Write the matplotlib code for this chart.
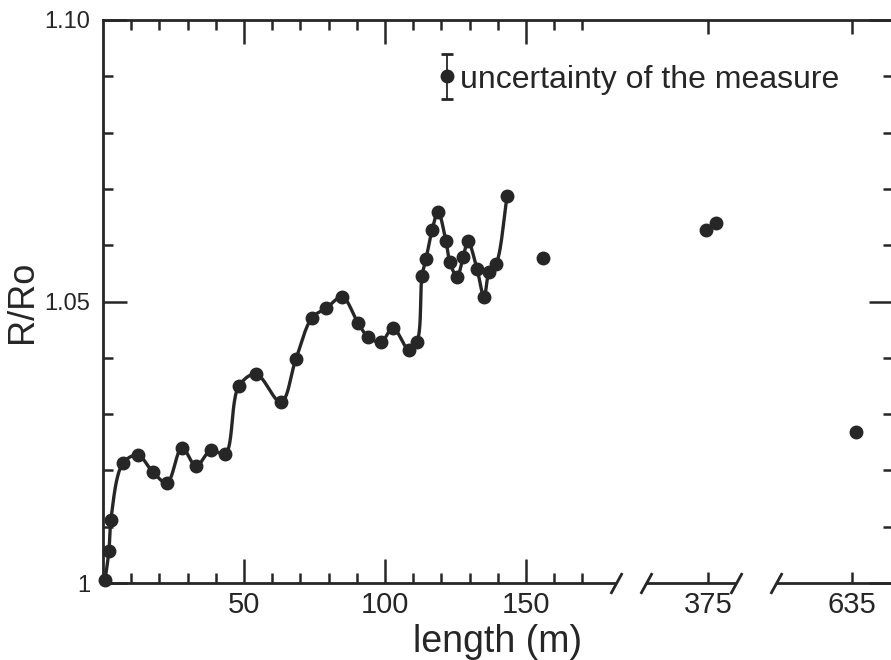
import numpy as np
import matplotlib
matplotlib.use("Agg")
import matplotlib.pyplot as plt
from matplotlib.path import Path

# Continuous run of measurements: length (m) and relative resistance R/Ro
length = [0.7, 2.1, 2.8, 7.1, 12.4, 17.7, 22.7, 28.0, 33.0, 38.3, 43.3,
          48.2, 54.3, 63.1, 68.4, 74.1, 79.1, 84.8, 90.4, 94.0, 98.6,
          102.8, 108.5, 111.3, 113.1, 114.5, 116.7, 118.8, 121.6, 123.0,
          125.5, 127.7, 129.4, 132.6, 135.1, 136.9, 139.4, 143.3]
ratio = [1.0005, 1.0057, 1.0112, 1.0213, 1.0227, 1.0197, 1.0178, 1.0240,
         1.0208, 1.0236, 1.0229, 1.0350, 1.0371, 1.0321, 1.0398, 1.0471,
         1.0488, 1.0508, 1.0462, 1.0437, 1.0428, 1.0453, 1.0414, 1.0428,
         1.0545, 1.0575, 1.0627, 1.0659, 1.0607, 1.0570, 1.0544, 1.0579,
         1.0607, 1.0558, 1.0508, 1.0552, 1.0567, 1.0687]

# Isolated measurements at longer lengths
far_length = [156.0, 374.3, 377.8, 636.4]
far_ratio = [1.0577, 1.0627, 1.0639, 1.0268]

# Measurement uncertainty shown in the key
uncertainty = 0.004

x_ticks = [50, 100, 150, 375, 635]
x_ticklabels = ["50", "100", "150", "375", "635"]
x_minor = [10, 20, 30, 40, 60, 70, 80, 90, 110, 120, 130, 140, 160, 170]
y_ticks = [1.00, 1.05, 1.10]
y_ticklabels = ["1", "1.05", "1.10"]
y_minor = [1.01, 1.02, 1.03, 1.04, 1.06, 1.07, 1.08, 1.09]

INK = "#262626"
TICK_FONT = ["Liberation Sans Narrow", "Liberation Sans", "DejaVu Sans"]
TEXT_FONT = ["Liberation Sans", "DejaVu Sans"]

# Broken length axis: piecewise-linear map from length to axis position
X_KNOTS = np.array([0.0, 182.0, 353.0, 385.0, 608.0, 700.0])
U_KNOTS = np.array([0.0, 182.0, 192.5, 224.5, 238.6, 330.6])


def _pw(v, src, dst):
    v = np.asarray(v, dtype=float)
    out = np.interp(v, src, dst)
    out = np.where(v < src[0], dst[0] + (v - src[0]), out)
    out = np.where(v > src[-1], dst[-1] + (v - src[-1]), out)
    return out


def forward(x):
    return _pw(x, X_KNOTS, U_KNOTS)


def inverse(u):
    return _pw(u, U_KNOTS, X_KNOTS)


def catmull_rom(pts, n=24, alpha=0.5):
    """Centripetal Catmull-Rom curve through the given points."""
    pts = np.asarray(pts, dtype=float)
    P = np.vstack([2 * pts[0] - pts[1], pts, 2 * pts[-1] - pts[-2]])
    out = []
    for i in range(1, len(P) - 2):
        p0, p1, p2, p3 = P[i - 1], P[i], P[i + 1], P[i + 2]
        t0 = 0.0
        t1 = t0 + max(np.linalg.norm(p1 - p0), 1e-6) ** alpha
        t2 = t1 + max(np.linalg.norm(p2 - p1), 1e-6) ** alpha
        t3 = t2 + max(np.linalg.norm(p3 - p2), 1e-6) ** alpha
        t = np.linspace(t1, t2, n)[:, None]
        a1 = (t1 - t) / (t1 - t0) * p0 + (t - t0) / (t1 - t0) * p1
        a2 = (t2 - t) / (t2 - t1) * p1 + (t - t1) / (t2 - t1) * p2
        a3 = (t3 - t) / (t3 - t2) * p2 + (t - t2) / (t3 - t2) * p3
        b1 = (t2 - t) / (t2 - t0) * a1 + (t - t0) / (t2 - t0) * a2
        b2 = (t3 - t) / (t3 - t1) * a2 + (t - t1) / (t3 - t1) * a3
        c = (t2 - t) / (t2 - t1) * b1 + (t - t1) / (t2 - t1) * b2
        out.append(c if i == 1 else c[1:])
    return np.vstack(out)


fig = plt.figure(figsize=(8.91, 6.60), dpi=100)
ax = fig.add_axes([103 / 891, 77 / 660, 790 / 891, 563 / 660])
ax.set_xscale("function", functions=(forward, inverse))
ax.set_xlim(0, 649.5)
ax.set_ylim(1.0, 1.10)

for side in ("left", "top", "right"):
    ax.spines[side].set_linewidth(2.0)
    ax.spines[side].set_color(INK)
ax.spines["bottom"].set_visible(False)

# Bottom axis drawn as separate pieces with slash break marks
xt = ax.get_xaxis_transform()
for a, b in [(0, 182), (353, 385), (608, 660)]:
    ax.plot([a, b], [0, 0], transform=xt, color=INK, lw=2.0,
            clip_on=False, solid_capstyle="butt", zorder=3)
slash = Path([(-0.55, -1.0), (0.55, 1.0)], [Path.MOVETO, Path.LINETO])
ax.plot([182, 353, 385, 608], [0, 0, 0, 0], transform=xt, linestyle="none",
        marker=slash, markersize=15, markeredgewidth=2.0, markeredgecolor=INK,
        clip_on=False, zorder=3)

# Ticks
ax.set_xticks(x_ticks)
ax.set_xticklabels(x_ticklabels)
ax.set_xticks(x_minor, minor=True)
ax.set_yticks(y_ticks)
ax.set_yticklabels(y_ticklabels)
ax.set_yticks(y_minor, minor=True)
ax.tick_params(which="both", direction="in", top=True, right=True,
               width=1.8, color=INK, labelcolor=INK)
ax.tick_params(which="major", length=17)
ax.tick_params(which="minor", length=7)
ax.tick_params(axis="x", which="major", pad=6, labelsize=21)
ax.tick_params(axis="y", which="major", pad=9, labelsize=17)
for lab in ax.get_xticklabels() + ax.get_yticklabels():
    lab.set_family(TICK_FONT)
for tk in ax.xaxis.get_major_ticks()[3:]:
    tk.tick1line.set_markersize(8)
    tk.tick2line.set_markersize(10)

ax.set_xlabel("length (m)", fontsize=27, family=TEXT_FONT, color=INK,
              labelpad=3)
ax.set_ylabel("R/Ro", fontsize=26, family=TEXT_FONT, color=INK, labelpad=3)

# Smooth line through the continuous run, computed in screen space
disp = ax.transData.transform(np.column_stack([length, ratio]))
curve = ax.transData.inverted().transform(catmull_rom(disp))
ax.plot(curve[:, 0], curve[:, 1], color=INK, lw=2.4, zorder=4,
        solid_capstyle="round")
ax.plot(length, ratio, "o", color=INK, markersize=9, zorder=5,
        clip_on=False)
ax.plot(far_length, far_ratio, "o", color=INK, markersize=9, zorder=5,
        clip_on=False)

# Key: uncertainty bar
ax.errorbar([122], [1.09], yerr=[uncertainty], fmt="o", color=INK,
            markersize=9, capsize=4.5, elinewidth=1.3, capthick=2.0,
            zorder=5)
ax.text(126.5, 1.09, "uncertainty of the measure", fontsize=23,
        family=TEXT_FONT, color=INK, ha="left", va="center_baseline")

fig.savefig("out.png", dpi=100)
